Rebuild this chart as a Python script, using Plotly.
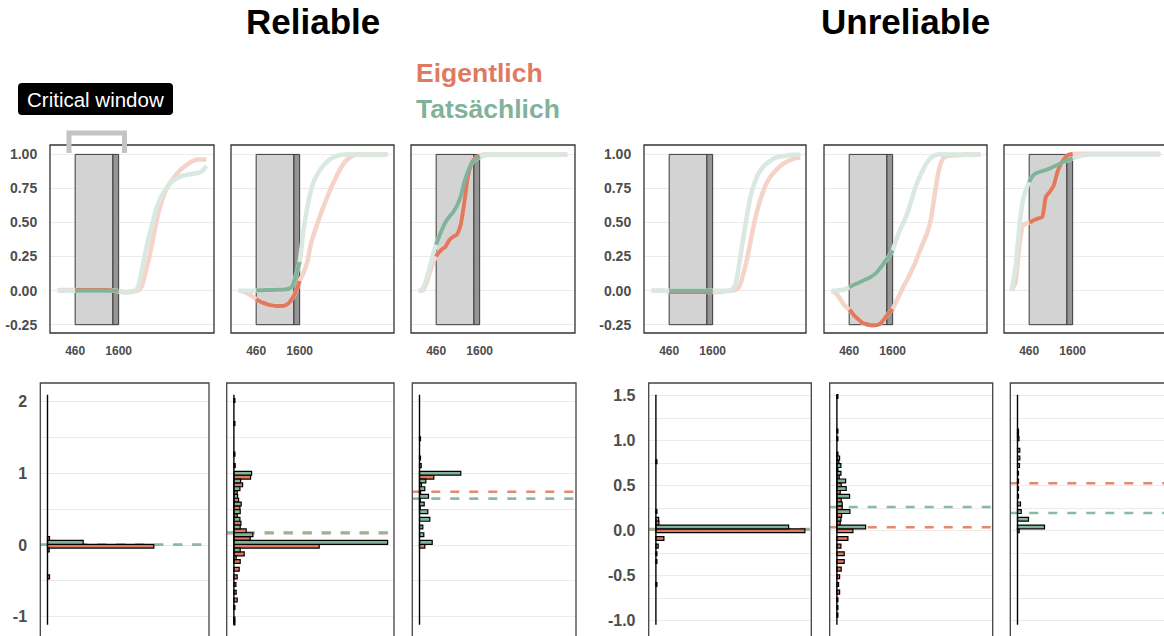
import numpy as np
import plotly.graph_objects as go

W, H = 1164, 636
SALMON = "#E07A5F"
GREEN = "#81B29A"
SALMON_FAINT = "#F6D3C9"
GREEN_FAINT = "#D9E8E1"
SALMON_DASH = "#E4886F"
GREEN_DASH = "#8BBAA3"
FONT = "Liberation Sans"
TICK_GREY = "#4D4D4D"
GRID = "#EBEBEB"

# ---------------- time course (proportion, 0-3900 ms) ----------------
time_ms = np.arange(0, 4000, 100)

rel1_eig = [0.000, 0.005, 0.005, 0.005, 0.005, 0.005, 0.005, 0.005, 0.005, 0.005,
            0.005, 0.005, 0.005, 0.004, 0.002, 0.000, -0.005, -0.008, -0.010, -0.008,
            -0.004, 0.000, 0.030, 0.130, 0.240, 0.380, 0.520, 0.630, 0.710, 0.770,
            0.810, 0.850, 0.880, 0.905, 0.925, 0.945, 0.958, 0.962, 0.963, 0.963]
rel1_tat = [0.000, 0.000, 0.000, 0.000, 0.000, 0.000, 0.000, 0.000, 0.000, 0.000,
            0.000, 0.000, 0.000, 0.000, 0.000, 0.000, -0.005, -0.012, -0.015, -0.012,
            -0.005, 0.020, 0.140, 0.280, 0.400, 0.510, 0.610, 0.680, 0.730, 0.770,
            0.800, 0.820, 0.835, 0.845, 0.850, 0.855, 0.860, 0.865, 0.880, 0.915]

rel2_eig = [0.000, -0.005, -0.015, -0.030, -0.050, -0.070, -0.085, -0.095, -0.105, -0.110,
            -0.113, -0.113, -0.110, -0.095, -0.060, -0.010, 0.070, 0.130, 0.210, 0.350,
            0.440, 0.520, 0.600, 0.670, 0.740, 0.800, 0.860, 0.910, 0.950, 0.975,
            0.990, 1.000, 1.000, 1.000, 1.000, 1.000, 1.000, 1.000, 1.000, 1.000]
rel2_tat = [0.000, 0.000, 0.000, 0.000, 0.000, 0.002, 0.003, 0.004, 0.005, 0.005,
            0.006, 0.007, 0.008, 0.012, 0.030, 0.110, 0.210, 0.440, 0.610, 0.740,
            0.820, 0.870, 0.910, 0.940, 0.965, 0.980, 0.990, 0.997, 1.000, 1.000,
            1.000, 1.000, 1.000, 1.000, 1.000, 1.000, 1.000, 1.000, 1.000, 1.000]

rel3_eig = [0.000, 0.000, 0.050, 0.140, 0.220, 0.270, 0.300, 0.320, 0.370, 0.395,
            0.410, 0.480, 0.650, 0.850, 0.940, 0.975, 0.990, 1.000, 1.000, 1.000,
            1.000, 1.000, 1.000, 1.000, 1.000, 1.000, 1.000, 1.000, 1.000, 1.000,
            1.000, 1.000, 1.000, 1.000, 1.000, 1.000, 1.000, 1.000, 1.000, 1.000]
rel3_tat = [0.000, 0.010, 0.080, 0.180, 0.290, 0.370, 0.440, 0.500, 0.540, 0.575,
            0.620, 0.690, 0.800, 0.880, 0.940, 0.965, 0.978, 0.990, 0.995, 1.000,
            1.000, 1.000, 1.000, 1.000, 1.000, 1.000, 1.000, 1.000, 1.000, 1.000,
            1.000, 1.000, 1.000, 1.000, 1.000, 1.000, 1.000, 1.000, 1.000, 1.000]

unr1_eig = [0.000, 0.000, 0.000, 0.000, -0.005, -0.010, -0.010, -0.010, -0.010, -0.010,
            -0.010, -0.010, -0.010, -0.010, -0.010, -0.010, -0.010, -0.010, -0.008, -0.005,
            -0.003, 0.000, 0.005, 0.030, 0.120, 0.230, 0.370, 0.510, 0.620, 0.710,
            0.780, 0.830, 0.865, 0.895, 0.920, 0.940, 0.955, 0.965, 0.975, 0.978]
unr1_tat = [0.000, 0.000, 0.000, 0.000, 0.000, 0.000, 0.000, 0.000, 0.000, 0.000,
            0.000, 0.000, 0.000, 0.000, 0.000, 0.000, 0.000, 0.000, 0.000, 0.000,
            0.000, 0.005, 0.050, 0.200, 0.380, 0.550, 0.700, 0.790, 0.860, 0.900,
            0.930, 0.950, 0.970, 0.980, 0.987, 0.990, 0.995, 0.997, 0.997, 0.997]

unr2_eig = [0.000, -0.015, -0.050, -0.095, -0.125, -0.150, -0.185, -0.210, -0.235, -0.245,
            -0.252, -0.254, -0.252, -0.235, -0.200, -0.165, -0.135, -0.075, -0.020, 0.040,
            0.090, 0.150, 0.210, 0.285, 0.350, 0.420, 0.520, 0.700, 0.870, 0.960,
            0.985, 0.990, 0.992, 0.994, 0.996, 1.000, 1.000, 1.000, 1.000, 1.000]
unr2_tat = [0.000, 0.000, 0.002, 0.006, 0.015, 0.030, 0.045, 0.056, 0.070, 0.083,
            0.097, 0.115, 0.140, 0.175, 0.215, 0.250, 0.295, 0.380, 0.450, 0.510,
            0.580, 0.670, 0.760, 0.830, 0.890, 0.940, 0.975, 0.993, 1.000, 1.000,
            1.000, 1.000, 1.000, 1.000, 1.000, 1.000, 1.000, 1.000, 1.000, 1.000]

unr3_eig = [0.000, 0.060, 0.330, 0.480, 0.495, 0.505, 0.520, 0.530, 0.540, 0.690,
            0.725, 0.770, 0.870, 0.935, 0.975, 0.997, 1.003, 1.005, 1.005, 1.005,
            1.005, 1.005, 1.005, 1.005, 1.005, 1.005, 1.005, 1.005, 1.005, 1.005,
            1.005, 1.005, 1.005, 1.005, 1.005, 1.005, 1.005, 1.005, 1.005, 1.005]
unr3_tat = [0.000, 0.170, 0.460, 0.670, 0.760, 0.820, 0.855, 0.868, 0.877, 0.886,
            0.897, 0.910, 0.922, 0.937, 0.950, 0.960, 0.970, 0.980, 0.990, 0.995,
            1.000, 1.000, 1.000, 1.000, 1.000, 1.000, 1.000, 1.000, 1.000, 1.000,
            1.000, 1.000, 1.000, 1.000, 1.000, 1.000, 1.000, 1.000, 1.000, 1.000]

# critical window (ms)
win_start, win_shade, win_end = 460, 1450, 1600

# ---------------- difference distributions (30 bins each) ----------------
rel_bin_width, rel_bin_first = 0.107, -1.06     # reliable panels
unr_bin_width, unr_bin_first = 0.0852, -1.002   # unreliable panels

rel1_eig_hist = [0, 0, 0, 0, 0, 0, 2, 0, 0, 0, 106.3, 2, 0, 0, 0, 0, 0, 0, 0, 0,
                 0, 0, 0, 0, 0, 0, 0, 0, 0, 0]
rel1_tat_hist = [0, 0, 0, 0, 0, 0, 0, 0, 0, 1.7, 35.7, 0, 0, 0, 0, 0, 0, 0, 0, 0,
                 0, 0, 0, 0, 0, 0, 0, 0, 0, 0]
rel2_eig_hist = [1, 0, 1, 3.3, 2.3, 2, 3.3, 5.3, 6.3, 10.3, 85.3, 16.3, 12.3, 7, 3.3, 6, 4.7, 3.3, 8.7, 16.7,
                 0, 0, 1, 0, 0, 0, 1, 0, 0, 1]
rel2_tat_hist = [1, 0, 0, 0, 0, 0, 0, 0, 2.3, 6.3, 153.7, 19, 6.3, 6, 6.3, 7.3, 3.7, 6, 6.7, 17.7,
                 1.3, 0, 0, 0, 0, 0, 0, 0, 0, 0]
rel3_eig_hist = [0, 0, 0, 0, 0, 0, 0, 0, 0, 0, 5.3, 0, 0, 0, 0, 0.7, 0.7, 1, 2, 14.3,
                 0, 0, 0, 0, 1, 0, 0, 0, 0, 0]
rel3_tat_hist = [0, 0, 0, 0, 0, 0, 0, 0, 0, 0, 12.7, 4.3, 3.3, 10.3, 8.3, 4.7, 9, 5.3, 6.3, 41.3,
                 1.7, 1, 0, 0, 0, 0, 0, 0, 0, 0]

unr1_eig_hist = [0, 0, 0, 0, 0, 1, 0, 0, 1, 1, 2.3, 8, 149, 3, 0, 0, 0, 0, 0, 0,
                 0, 1, 0, 0, 0, 0, 0, 0, 0, 0]
unr1_tat_hist = [0, 0, 0, 0, 0, 0, 0, 0, 0, 0, 0, 0, 132.7, 2.7, 1, 0, 0, 0, 0, 0,
                 0, 0, 0, 0, 0, 0, 0, 0, 0, 0]
unr2_eig_hist = [0, 1, 1, 1, 2.7, 1.7, 2.7, 4.3, 7.3, 7.3, 4, 11, 16, 3.3, 4.7, 5.3, 4.3, 3.3, 4.3, 2.3,
                 1, 2, 1, 0, 1, 1, 0, 0, 0, 0]
unr2_tat_hist = [0, 0, 0, 0, 0, 0, 0, 0, 0, 0, 0, 0, 28.7, 4, 13, 5.3, 12.7, 9.3, 8.7, 4,
                 4, 2.7, 0, 0, 0, 0, 0, 0, 0, 1]
unr3_eig_hist = [0, 0, 0, 0, 0, 0, 0, 0, 0, 0, 0, 0, 1.7, 0, 0, 0, 0, 0, 0, 0,
                 0, 0, 0, 0, 1.5, 1, 0, 0, 0, 0]
unr3_tat_hist = [0, 0, 0, 0, 0, 0, 0, 0, 0, 0, 0, 0, 27, 11, 3.7, 3, 1, 1, 1, 1,
                 2, 2.3, 2.3, 0, 1, 0, 0, 0, 0, 0]

# group means (dashed reference lines)
rel_mean_eig = [0.004, 0.166, 0.743]
rel_mean_tat = [0.004, 0.173, 0.646]
unr_mean_eig = [0.015, 0.038, 0.527]
unr_mean_tat = [0.019, 0.263, 0.197]

# axis tick labels
top_ticks = [-0.25, 0.0, 0.25, 0.5, 0.75, 1.0]
top_tick_labels = ["-0.25", "0.00", "0.25", "0.50", "0.75", "1.00"]
time_ticks = [460, 1600]
time_tick_labels = ["460", "1600"]
rel_ticks = [-1, 0, 1, 2]
rel_tick_labels = ["-1", "0", "1", "2"]
unr_ticks = [-1.0, -0.5, 0.0, 0.5, 1.0, 1.5]
unr_tick_labels = ["-1.0", "-0.5", "0.0", "0.5", "1.0", "1.5"]

# ---------------- layout geometry (pixels) ----------------
top_x = [(50, 214), (231, 394), (411, 575), (644, 806), (824, 987), (1004, 1164)]
top_y = (145, 333)
bot_x = [(40.3, 209), (226.7, 394), (412.3, 576), (648.7, 811.3), (829.7, 992.7), (1010.3, 1164)]
bot_y = (383, 636)
PX_PER_MS = 0.03814
BAR_OFFSET_PX = 7.2


def fx(x):
    return x / W


def fy(y):
    return 1 - y / H


fig = go.Figure()
layout = {}
shapes = []
annotations = []

tick_font_top = dict(family=FONT, size=12, color=TICK_GREY, weight="bold")
ylab_font_top = dict(family=FONT, size=14, color=TICK_GREY, weight="bold")
ylab_font_bot = dict(family=FONT, size=16, color=TICK_GREY, weight="bold")

curves = [(rel1_eig, rel1_tat), (rel2_eig, rel2_tat), (rel3_eig, rel3_tat),
          (unr1_eig, unr1_tat), (unr2_eig, unr2_tat), (unr3_eig, unr3_tat)]

for i, (eig, tat) in enumerate(curves):
    n = i + 1
    x0, x1 = top_x[i]
    layout[f"xaxis{n}"] = dict(
        domain=[fx(x0), fx(x1)], range=[-200, -200 + (x1 - x0) / PX_PER_MS],
        anchor=f"y{n}", tickvals=time_ticks, ticktext=time_tick_labels,
        showgrid=False, zeroline=False, showline=False,
        ticks="outside", ticklen=7, tickcolor="rgba(0,0,0,0)", tickfont=tick_font_top)
    layout[f"yaxis{n}"] = dict(
        domain=[fy(top_y[1]), fy(top_y[0])], range=[-0.311, 1.069], anchor=f"x{n}",
        tickvals=top_ticks, ticktext=top_tick_labels, showticklabels=(i in (0, 3)),
        showgrid=True, gridcolor=GRID, gridwidth=1.2, zeroline=False, showline=False,
        ticks="outside", ticklen=9, tickcolor="rgba(0,0,0,0)", tickfont=ylab_font_top)

    # critical window boxes
    shapes.append(dict(type="rect", xref=f"x{n}", yref=f"y{n}", x0=win_start, x1=win_shade,
                       y0=-0.25, y1=1.0, fillcolor="#D3D3D3", line=dict(color="#3A3A3A", width=1),
                       layer="between"))
    shapes.append(dict(type="rect", xref=f"x{n}", yref=f"y{n}", x0=win_shade, x1=win_end,
                       y0=-0.25, y1=1.0, fillcolor="#959595", line=dict(color="#3A3A3A", width=1),
                       layer="between"))
    # panel frame
    shapes.append(dict(type="rect", xref="paper", yref="paper",
                       x0=fx(x0), x1=fx(x1 + 3 if i == 5 else x1),
                       y0=fy(top_y[1]), y1=fy(top_y[0]),
                       line=dict(color="#333333", width=1.3), layer="above"))

    t = time_ms
    inside = (t > win_start) & (t <= win_end)
    for series, faint in ((eig, SALMON_FAINT), (tat, GREEN_FAINT)):
        fig.add_trace(go.Scatter(x=t, y=series, mode="lines", xaxis=f"x{n}", yaxis=f"y{n}",
                                 line=dict(color=faint, width=4.5, shape="spline", smoothing=0.6),
                                 hoverinfo="skip", showlegend=False))
    for series, strong in ((eig, SALMON), (tat, GREEN)):
        s = np.asarray(series)
        tb = np.concatenate([[win_start], t[inside]])
        yb = np.concatenate([[np.interp(win_start, t, s)], s[inside]])
        fig.add_trace(go.Scatter(x=tb, y=yb, mode="lines", xaxis=f"x{n}", yaxis=f"y{n}",
                                 line=dict(color=strong, width=4, shape="spline", smoothing=0.6),
                                 hoverinfo="skip", showlegend=False))

hists = [(rel1_eig_hist, rel1_tat_hist), (rel2_eig_hist, rel2_tat_hist), (rel3_eig_hist, rel3_tat_hist),
         (unr1_eig_hist, unr1_tat_hist), (unr2_eig_hist, unr2_tat_hist), (unr3_eig_hist, unr3_tat_hist)]
means = list(zip(rel_mean_eig, rel_mean_tat)) + list(zip(unr_mean_eig, unr_mean_tat))

for i, (h_eig, h_tat) in enumerate(hists):
    n = i + 7
    x0, x1 = bot_x[i]
    reliable = i < 3
    bw, first = (rel_bin_width, rel_bin_first) if reliable else (unr_bin_width, unr_bin_first)
    centers = first + bw * np.arange(30)
    lo, hi = centers[0] - bw / 2, centers[-1] + bw / 2
    xr = [-BAR_OFFSET_PX, (x1 - x0) - BAR_OFFSET_PX]

    layout[f"xaxis{n}"] = dict(
        domain=[fx(x0), fx(x1)], range=xr,
        anchor=f"y{n}", showticklabels=False, showgrid=False, zeroline=False, showline=False)
    if reliable:
        yax = dict(range=[-1.269, 2.259], tickvals=rel_ticks, ticktext=rel_tick_labels,
                   minor=dict(tick0=0, dtick=0.5, showgrid=True, gridcolor=GRID, gridwidth=1.2))
    else:
        yax = dict(range=[-1.17, 1.641], tickvals=unr_ticks, ticktext=unr_tick_labels,
                   minor=dict(tick0=0, dtick=0.25, showgrid=True, gridcolor=GRID, gridwidth=1.2))
    yax.update(domain=[0, fy(bot_y[0])], anchor=f"x{n}",
               showticklabels=(i in (0, 3)), showgrid=True, gridcolor=GRID, gridwidth=1.2,
               zeroline=False, showline=False, ticks="outside", ticklen=9,
               tickcolor="rgba(0,0,0,0)", tickfont=ylab_font_bot)
    layout[f"yaxis{n}"] = yax

    # mean lines sit under the bars
    m_eig, m_tat = means[i]
    for m, col in ((m_eig, SALMON_DASH), (m_tat, GREEN_DASH)):
        shapes.append(dict(type="line", xref=f"x{n}", yref=f"y{n}", x0=xr[0], x1=xr[1] + 4,
                           y0=m, y1=m, line=dict(color=col, width=2.6, dash="9px,10px"),
                           layer="between"))

    for counts, col, shift in ((h_eig, SALMON, -bw / 4), (h_tat, GREEN, bw / 4)):
        c = np.asarray(counts, dtype=float)
        keep = c > 0
        fig.add_trace(go.Bar(x=c[keep], y=(centers + shift)[keep], orientation="h",
                             width=bw / 2, xaxis=f"x{n}", yaxis=f"y{n}",
                             marker=dict(color=col, line=dict(color="black", width=1.2)),
                             hoverinfo="skip", showlegend=False))
    fig.add_trace(go.Scatter(x=[0, 0], y=[lo, hi], mode="lines", xaxis=f"x{n}", yaxis=f"y{n}",
                             line=dict(color="black", width=1.4), hoverinfo="skip", showlegend=False))

    shapes.append(dict(type="rect", xref="paper", yref="paper",
                       x0=fx(x0), x1=fx(x1 + 3 if i == 5 else x1),
                       y0=fy(bot_y[1] + 4), y1=fy(bot_y[0]),
                       line=dict(color="#444444", width=1.3), layer="above"))


# "Critical window" label box with rounded corners
def rounded_rect(x0, y0, x1, y1, r):
    pts = [("M", x0 + r, y0), ("L", x1 - r, y0), ("Q", x1, y0, x1, y0 + r),
           ("L", x1, y1 - r), ("Q", x1, y1, x1 - r, y1), ("L", x0 + r, y1),
           ("Q", x0, y1, x0, y1 - r), ("L", x0, y0 + r), ("Q", x0, y0, x0 + r, y0)]
    out = []
    for p in pts:
        cmd, coords = p[0], p[1:]
        xy = " ".join(f"{fx(coords[k]):.5f},{fy(coords[k + 1]):.5f}" for k in range(0, len(coords), 2))
        out.append(f"{cmd} {xy}")
    return " ".join(out) + " Z"


shapes.append(dict(type="path", xref="paper", yref="paper", path=rounded_rect(18, 83, 173, 115, 4),
                   fillcolor="black", line=dict(width=0), layer="above"))
bracket = (f"M {fx(69):.5f},{fy(153):.5f} L {fx(69):.5f},{fy(133):.5f} "
           f"L {fx(124.5):.5f},{fy(133):.5f} L {fx(124.5):.5f},{fy(153):.5f}")
shapes.append(dict(type="path", xref="paper", yref="paper", path=bracket,
                   line=dict(color="#C4C4C4", width=5), layer="above"))

annotations += [
    dict(text="Critical window", x=fx(95.5), y=fy(99.5), xref="paper", yref="paper",
         xanchor="center", yanchor="middle", showarrow=False,
         font=dict(family=FONT, size=20.5, color="white")),
    dict(text="<b>Reliable</b>", x=fx(312.5), y=fy(21), xref="paper", yref="paper",
         xanchor="center", yanchor="middle", showarrow=False,
         font=dict(family=FONT, size=35, color="black")),
    dict(text="<b>Unreliable</b>", x=fx(905), y=fy(21), xref="paper", yref="paper",
         xanchor="center", yanchor="middle", showarrow=False,
         font=dict(family=FONT, size=35, color="black")),
    dict(text="<b>Eigentlich</b>", x=fx(414), y=fy(73), xref="paper", yref="paper",
         xanchor="left", yanchor="middle", showarrow=False,
         font=dict(family=FONT, size=26.5, color=SALMON)),
    dict(text="<b>Tatsächlich</b>", x=fx(414), y=fy(109), xref="paper", yref="paper",
         xanchor="left", yanchor="middle", showarrow=False,
         font=dict(family=FONT, size=26.5, color=GREEN)),
]

fig.update_layout(
    width=W, height=H, margin=dict(l=0, r=0, t=0, b=0),
    paper_bgcolor="white", plot_bgcolor="white", showlegend=False,
    barmode="overlay", shapes=shapes, annotations=annotations,
    font=dict(family=FONT), **layout)

fig.write_html("out.html", config={"displayModeBar": False})
